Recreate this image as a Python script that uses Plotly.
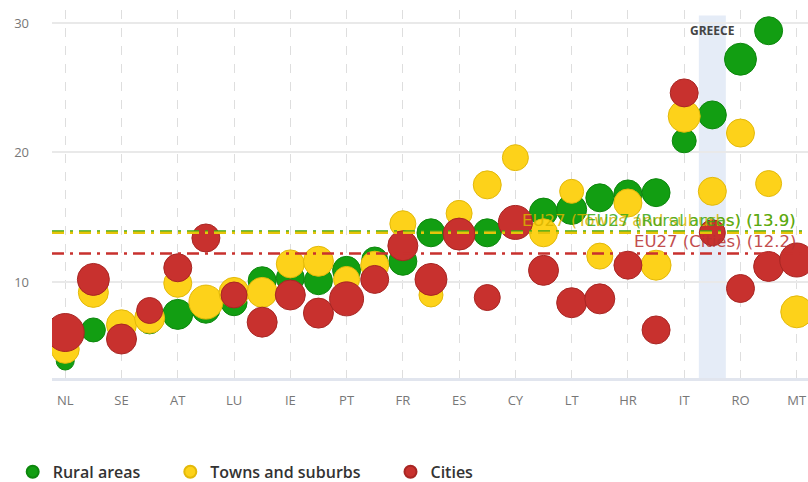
import plotly.graph_objects as go

countries = ["NL", "DK", "SE", "FI", "AT", "SI", "LU", "CZ", "IE", "BE", "PT", "DE", "FR", "SK",
             "ES", "PL", "CY", "EE", "LT", "LV", "HR", "HU", "IT", "EL", "RO", "BG", "MT"]

rural = [3.9, 6.3, 6.6, 7.0, 7.5, 7.9, 8.4, 10.1, 10.3, 10.1, 10.9, 11.7, 11.6, 13.8,
         13.9, 13.8, 14.5, 15.4, 15.6, 16.5, 16.8, 16.9, 20.9, 22.9, 27.2, 29.4, None]
towns = [4.8, 9.2, 6.7, 7.2, 9.9, 8.45, 9.2, 9.2, 11.4, 11.6, 10.2, 11.3, 14.5, 9.0,
         15.3, 17.5, 19.6, 13.8, 17.0, 12.0, 16.1, 11.3, 22.8, 17.0, 21.5, 17.6, 7.7]
cities = [6.1, 10.2, 5.6, 7.8, 11.1, 13.4, 9.0, 6.9, 9.0, 7.6, 8.7, 10.2, 12.8, 10.2,
          13.7, 8.8, 14.6, 10.9, 8.4, 8.7, 11.3, 6.3, 24.6, 13.8, 9.5, 11.2, 11.7]

rural_weight = [18, 24, 28, 26, 30, 28, 26, 28, 28, 28, 28, 26, 28, 28,
                28, 28, 28, 28, 30, 28, 28, 28, 24, 28, 32, 28, 0]
towns_weight = [28, 30, 30, 30, 28, 34, 30, 30, 28, 30, 26, 28, 26, 24,
                26, 28, 26, 28, 24, 26, 28, 30, 32, 28, 28, 26, 32]
cities_weight = [38, 32, 30, 26, 28, 28, 26, 30, 30, 30, 34, 28, 30, 32,
                 32, 26, 34, 30, 30, 30, 28, 28, 28, 26, 28, 30, 34]

eu27 = {"Rural areas": 13.9, "Towns and suburbs": 13.8, "Cities": 12.2}
eu27_labels = {"Rural areas": "13.9", "Towns and suburbs": "13.9", "Cities": "12.2"}
highlight = "EL"
highlight_label = "GREECE"

GREEN, GREEN_L = "#129e12", "#0d870d"
YELLOW, YELLOW_L = "#fdd21a", "#e3b90a"
RED, RED_L = "#c8312e", "#a82623"

NB = "\u00a0"
fig = go.Figure()
series = [("Rural areas", NB * 6, rural, rural_weight, GREEN, GREEN_L),
          ("Towns and suburbs", NB * 6, towns, towns_weight, YELLOW, YELLOW_L),
          ("Cities", "", cities, cities_weight, RED, RED_L)]
for name, pad, vals, w, col, lcol in series:
    fig.add_trace(go.Scatter(
        x=countries, y=vals, mode="markers", name=name + pad,
        marker=dict(size=w, sizemode="diameter", color=col, opacity=1,
                    line=dict(color=lcol, width=1)),
    ))

hi = countries.index(highlight)
fig.add_shape(type="rect", xref="x", yref="paper", x0=hi - 0.48, x1=hi + 0.48,
              y0=0, y1=0.985, fillcolor="#e5ecf7", line_width=0, layer="below")
fig.add_annotation(x=highlight, y=0.943, xref="x", yref="paper", text="<b>" + highlight_label + "</b>",
                   showarrow=False, font=dict(family="Open Sans", size=12, color="#444"),
                   yanchor="middle")

line_cols = {"Rural areas": "#3aa818", "Towns and suburbs": "#e6c40a", "Cities": "#c8312e"}
for name in ["Rural areas", "Towns and suburbs", "Cities"]:
    fig.add_shape(type="line", xref="paper", yref="y", x0=0, x1=1,
                  y0=eu27[name], y1=eu27[name],
                  line=dict(color=line_cols[name], width=2.5, dash="12px,6px,3px,6px"),
                  layer="above")

label_cols = {"Rural areas": "#3aa818", "Towns and suburbs": "#d8b400", "Cities": "#b83030"}
for name, ys in [("Towns and suburbs", 14.75), ("Rural areas", 14.75), ("Cities", 13.1)]:
    fig.add_annotation(x=0.987, xref="paper", y=ys, yref="y",
                       text=f"EU27 ({name}) ({eu27_labels[name]})",
                       showarrow=False, xanchor="right", yanchor="middle",
                       font=dict(family="DejaVu Sans", size=16.5, color=label_cols[name]),
                       opacity=0.85)

fig.update_layout(
    width=808, height=482,
    margin=dict(l=52, r=0, t=10, b=104, autoexpand=False),
    paper_bgcolor="white", plot_bgcolor="white",
    font=dict(family="Open Sans", color="#555"),
    showlegend=True,
    legend=dict(orientation="h", x=-0.052, xanchor="left", y=-0.255, yanchor="middle",
                itemsizing="constant", font=dict(size=16, color="#333", weight=600),
                itemwidth=30, tracegroupgap=0),
    xaxis=dict(type="category", categoryorder="array", categoryarray=countries,
               tickvals=countries[::2], ticktext=countries[::2], automargin=False,
               range=[-0.47, 26.4], showgrid=True, gridcolor="#dedede", griddash="dash",
               gridwidth=1, showline=True, linecolor="#e1e5ee", linewidth=3,
               ticks="", ticklabelstandoff=8, tickfont=dict(size=13, color="#777"),
               zeroline=False),
    yaxis=dict(range=[2.59, 31.0], tickvals=[10, 20, 30], showgrid=True, automargin=False,
               gridcolor="#e9e9e9", gridwidth=1.5, zeroline=False, showline=False,
               ticks="", ticklabelstandoff=22, tickfont=dict(size=13, color="#777")),
)

fig.write_html("out.html", config={"displayModeBar": False},
               post_script="document.body.style.margin='0';document.body.style.overflow='hidden';")
